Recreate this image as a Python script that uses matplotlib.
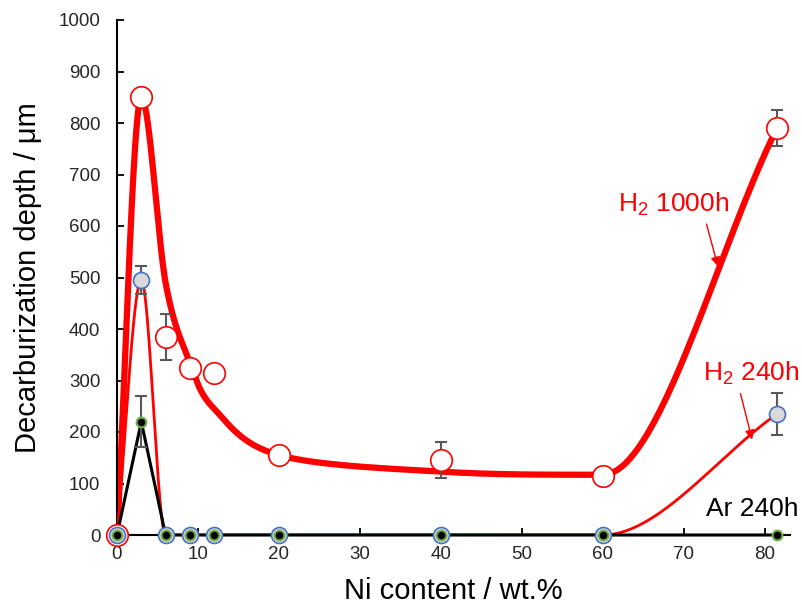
import numpy as np
import matplotlib
matplotlib.use("Agg")
import matplotlib.pyplot as plt

plt.rcParams['font.family'] = ['Liberation Sans', 'DejaVu Sans']
plt.rcParams['mathtext.default'] = 'regular'

# Ni content of the alloys (wt.%)
ni = [0, 3, 6, 9, 12, 20, 40, 60, 81.5]

# decarburization depth (um)
h2_1000h = [0, 850, 385, 325, 315, 155, 145, 115, 790]
h2_240h = [0, 495, 0, 0, 0, 0, 0, 0, 235]
ar_240h = [0, 220, 0, 0, 0, 0, 0, 0, 0]

# error bars (half width)
err_1000h = [0, 0, 45, 0, 0, 0, 35, 0, 35]
err_240h = [0, 28, 0, 0, 0, 0, 0, 0, 40]
err_ar = [0, 50, 0, 0, 0, 0, 0, 0, 0]

# smoothed trend line for H2 1000h
trend_x = [0, 3, 6, 9, 12, 20, 40, 60, 81.5]
trend_y = [0, 850, 490, 335, 245, 155, 123, 117, 790]

x_ticks = [0, 10, 20, 30, 40, 50, 60, 70, 80]
y_ticks = [0, 100, 200, 300, 400, 500, 600, 700, 800, 900, 1000]


def smooth(xs, ys, n=60):
    # Catmull-Rom style bezier, flat tangent at local extrema (no overshoot)
    p = np.column_stack([xs, ys]).astype(float)
    m = len(p)
    tang = np.zeros_like(p)
    for i in range(m):
        if i == 0:
            tang[i] = p[1] - p[0]
        elif i == m - 1:
            tang[i] = p[-1] - p[-2]
        else:
            tang[i] = (p[i + 1] - p[i - 1]) / 2
            if (p[i, 1] - p[i - 1, 1]) * (p[i + 1, 1] - p[i, 1]) <= 0:
                tang[i, 1] = 0
    t = np.linspace(0, 1, n)[:, None]
    out = []
    for i in range(m - 1):
        c0 = p[i]
        c1 = p[i] + tang[i] / 3
        c2 = p[i + 1] - tang[i + 1] / 3
        c3 = p[i + 1]
        seg = ((1 - t) ** 3) * c0 + 3 * ((1 - t) ** 2) * t * c1 + 3 * (1 - t) * t ** 2 * c2 + t ** 3 * c3
        out.append(seg)
    out = np.vstack(out)
    return out[:, 0], out[:, 1]


fig = plt.figure(figsize=(8.03, 6.16), dpi=100)
ax = fig.add_axes([117 / 803, 81 / 616, 673 / 803, 515 / 616])

red = '#FF0000'
gray_err = '#595959'

tx, ty = smooth(trend_x, trend_y)
ax.plot(tx, ty, color=red, lw=4.5, zorder=2, solid_capstyle='round')

sx, sy = smooth(ni, h2_240h)
ax.plot(sx, sy, color=red, lw=2, zorder=3)

ax.plot(ni, ar_240h, color='black', lw=2.2, zorder=4, clip_on=False)

for ys, es in [(h2_1000h, err_1000h), (h2_240h, err_240h), (ar_240h, err_ar)]:
    xs_e = [x for x, e in zip(ni, es) if e > 0]
    ys_e = [y for y, e in zip(ys, es) if e > 0]
    es_e = [e for e in es if e > 0]
    ax.errorbar(xs_e, ys_e, yerr=es_e, fmt='none', ecolor=gray_err,
                elinewidth=1.5, capsize=4, capthick=1.5, zorder=4.5)

ax.plot(ni, h2_1000h, 'o', ms=15.5, mfc='white', mec=red, mew=1.2,
        zorder=5, clip_on=False)
ax.plot(ni, h2_240h, 'o', ms=11.5, mfc='#D9D9D9', mec='#4472C4', mew=1.2,
        zorder=6, clip_on=False)
ax.plot(ni, ar_240h, 'o', ms=7, mfc='black', mec='#70AD47', mew=1.5,
        zorder=7, clip_on=False)

ax.set_xlim(0, 83.1)
ax.set_ylim(0, 1000)
ax.set_xticks(x_ticks)
ax.set_yticks(y_ticks)
for s in ['top', 'right']:
    ax.spines[s].set_visible(False)
for s in ['left', 'bottom']:
    ax.spines[s].set_linewidth(1.5)
ax.tick_params(direction='in', length=5, width=1.3, labelsize=13.5,
               labelcolor='#262626')
ax.tick_params(axis='y', pad=12)
ax.tick_params(axis='x', pad=8)

ax.set_xlabel('Ni content / wt.%', fontsize=21, labelpad=10)
ax.set_ylabel('Decarburization depth / μm', fontsize=21, labelpad=12)

ax.text(61.9, 642, 'H$_2$ 1000h', color=red, fontsize=19, va='center',
        ha='left', clip_on=False)
ax.text(72.3, 313, 'H$_2$ 240h', color=red, fontsize=19, va='center',
        ha='left', clip_on=False)
ax.text(72.7, 50, 'Ar 240h', color='black', fontsize=19, va='center',
        ha='left', clip_on=False)

ax.annotate('', xy=(74.3, 516), xytext=(72.7, 609),
            arrowprops=dict(arrowstyle='-|>', color=red, lw=1,
                            mutation_scale=14))
ax.annotate('', xy=(78.5, 180), xytext=(76.9, 280),
            arrowprops=dict(arrowstyle='-|>', color=red, lw=1,
                            mutation_scale=14))

fig.savefig('out.png', dpi=100)
